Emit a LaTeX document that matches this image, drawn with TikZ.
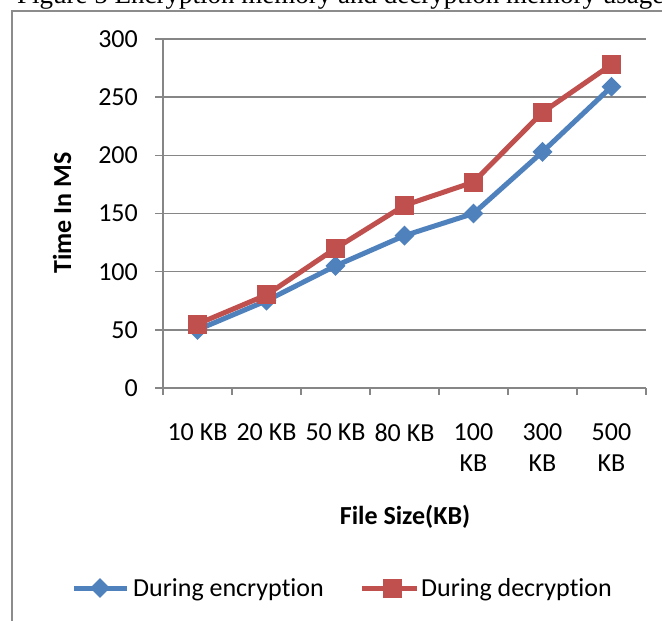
\documentclass[tikz,border=0pt]{standalone}
\usepackage{fontspec}
\setmainfont{Carlito}[Ligatures=NoCommon]
\newfontfamily\capfont{Liberation Serif}
\usetikzlibrary{shapes.geometric}

\definecolor{encblue}{HTML}{4F81BD}
\definecolor{decred}{HTML}{C0504D}
\definecolor{gridgray}{HTML}{868686}
\definecolor{framegray}{HTML}{8C8C8C}
\newcommand\plotfont{\fontsize{26}{31}\selectfont}

\begin{document}
\begin{tikzpicture}[x=1pt, y=-1pt, font=\plotfont,
  gridline/.style={gridgray, line width=1.5pt},
  encline/.style={encblue, line width=5pt, line join=round},
  decline/.style={decred, line width=5pt, line join=round},
  encmark/.style={diamond, fill=encblue, inner sep=0pt, minimum width=20pt, minimum height=20pt},
  decmark/.style={rectangle, fill=decred, inner sep=0pt, minimum size=19pt},
  lbl/.style={inner sep=0pt}]
  \clip (0,0) rectangle (662,621);
  % caption line and chart frame
  \node[lbl, anchor=base west, font=\capfont\fontsize{27}{32}\selectfont] (cap) at (17,3) {Figure 5 Encryption memory and decryption memory usage};
  \draw[framegray, line width=2pt] (12,700) -- (12,11) -- (700,11);
  % grid and axes
  \foreach \v in {0,50,...,300}{
    \draw[gridline] (155,{388-1.1633*\v}) -- (646,{388-1.1633*\v});
    \node[lbl, anchor=east] (y\v) at (138,{388-1.1633*\v}) {\v};
  }
  \draw[gridline] (163,39) -- (163,395);
  \foreach \i in {1,...,7} \draw[gridline] ({163+69*\i},388) -- ({163+69*\i},395);
  \foreach \t [count=\i] in {10 KB,20 KB,50 KB,80 KB,{100\\KB},{300\\KB},{500\\KB}}
    \node[lbl, anchor=north, align=center] (x\i) at ({128.5+69*\i},423.5) {\t};
  \node[lbl, rotate=90, font=\plotfont\bfseries] (ytitle) at (62,213) {Time In MS};
  \node[lbl, font=\plotfont\bfseries] (xtitle) at (405,517) {File Size(KB)};
  % data
  \foreach \v [count=\i] in {50,75,105,131,150,203,259} \coordinate (e\i) at ({128.5+69*\i},{388-1.1633*\v});
  \foreach \v [count=\i] in {55,80,120,157,177,237,278} \coordinate (d\i) at ({128.5+69*\i},{388-1.1633*\v});
  \draw[encline] (e1) -- (e2) -- (e3) -- (e4) -- (e5) -- (e6) -- (e7);
  \foreach \i in {1,...,7} \node[encmark] (em\i) at (e\i) {};
  \draw[decline] (d1) -- (d2) -- (d3) -- (d4) -- (d5) -- (d6) -- (d7);
  \foreach \i in {1,...,7} \node[decmark] (dm\i) at (d\i) {};
  % legend
  \coordinate (la) at (74,588); \coordinate (lb) at (127,588);
  \coordinate (lc) at (362,588); \coordinate (ld) at (417,588);
  \draw[encline] (la) -- (lb);
  \node[encmark] (lem) at (100,588) {};
  \node[lbl, anchor=base west] (let) at (133,596) {During encryption};
  \draw[decline] (lc) -- (ld);
  \node[decmark] (ldm) at (392,588) {};
  \node[lbl, anchor=base west] (ldt) at (421,596) {During decryption};
\end{tikzpicture}
\end{document}
